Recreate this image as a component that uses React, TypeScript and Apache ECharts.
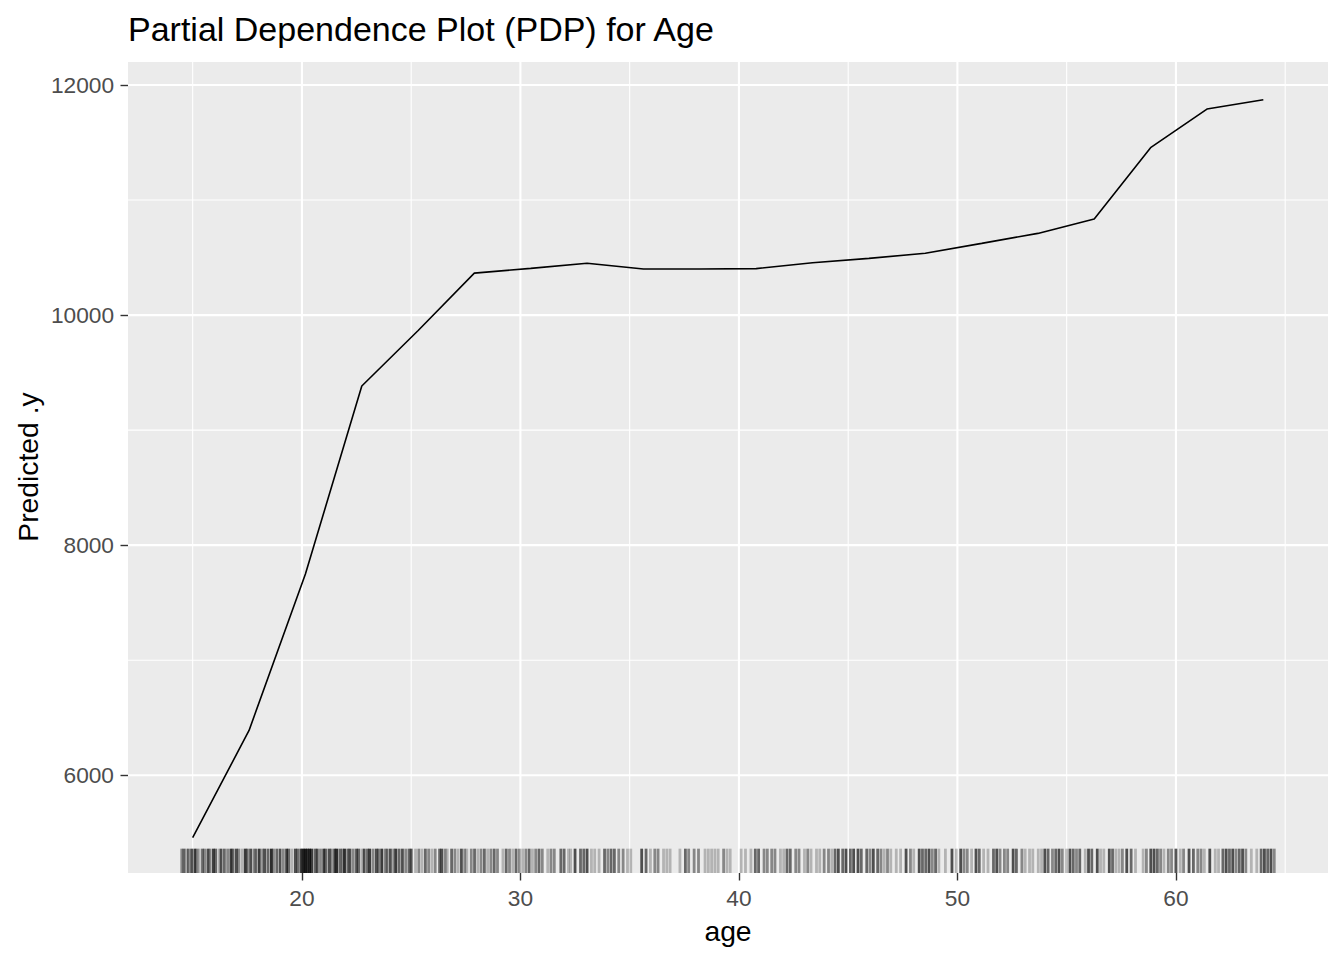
import { useEffect, useRef } from "react";
import * as echarts from "echarts";

const chartTitle = "Partial Dependence Plot (PDP) for Age";
const xTitle = "age";
const yTitle = "Predicted .y";

// PDP grid of ages and predicted values
const ageGrid = [15.0, 17.58, 20.16, 22.74, 25.32, 27.89, 30.47, 33.05, 35.63, 38.21, 40.79, 43.37, 45.95, 48.53, 51.11, 53.68, 56.26, 58.84, 61.42, 64.0];
const predicted = [5458, 6389, 7750, 9383, 9866, 10365, 10406, 10450, 10400, 10400, 10404, 10455, 10493, 10537, 10623, 10710, 10835, 11455, 11791, 11872];

// axis ticks & gridlines
const xTickValues = [20, 30, 40, 50, 60];
const xMinorValues = [15, 25, 35, 45, 55, 65];
const yTickValues = [6000, 8000, 10000, 12000];
const yMinorValues = [7000, 9000, 11000];
const xRange = [12.04, 66.96];
const yRange = [5150, 12200];

// rug: [age, number of overlapping observations]
const rugTicks: [number, number][] = [
  [14.5, 2], [14.6, 3], [14.7, 1], [14.8, 3], [14.95, 4], [15.1, 5], [15.2, 2], [15.3, 1], [15.45, 3], [15.55, 2], [15.7, 4], [15.8, 2], [15.95, 5], [16.05, 3], [16.2, 1], [16.3, 4], [16.45, 3], [16.6, 2], [16.75, 5], [16.85, 3], [17.0, 4], [17.1, 2], [17.25, 1], [17.4, 5], [17.5, 3], [17.65, 4], [17.8, 2], [17.9, 3], [18.05, 5], [18.2, 2], [18.3, 4], [18.45, 3], [18.6, 6], [18.7, 2], [18.85, 3], [19.0, 4], [19.15, 2], [19.3, 5], [19.4, 3], [19.55, 1], [19.7, 4], [19.8, 3], [19.95, 5],
  [20.05, 7], [20.15, 8], [20.25, 6], [20.35, 7], [20.45, 5],
  [20.6, 3], [20.7, 4], [20.85, 2], [21.0, 5], [21.1, 3], [21.25, 4], [21.35, 2], [21.5, 5], [21.6, 6], [21.75, 3], [21.85, 2], [21.95, 6], [22.1, 3], [22.2, 4], [22.35, 2], [22.5, 4], [22.6, 3], [22.75, 1], [22.85, 4], [23.0, 3], [23.1, 5], [23.25, 2], [23.4, 4], [23.5, 3], [23.65, 5], [23.8, 2], [23.9, 3], [24.05, 4], [24.2, 2], [24.3, 5], [24.45, 3], [24.6, 4], [24.75, 2], [24.9, 3], [25.0, 4],
  [25.2, 1], [25.35, 2], [25.5, 1], [25.65, 3], [25.8, 2], [25.95, 1], [26.1, 2], [26.3, 3], [26.4, 4], [26.55, 2], [26.65, 1], [26.85, 3], [27.0, 2], [27.15, 1], [27.3, 4], [27.45, 2], [27.55, 1], [27.75, 2], [27.9, 3], [28.05, 1], [28.2, 2], [28.35, 3], [28.5, 1], [28.65, 2], [28.8, 3], [28.95, 2], [29.2, 1], [29.35, 3], [29.5, 2], [29.65, 1], [29.8, 3], [29.95, 2], [30.1, 1], [30.25, 2], [30.4, 3], [30.55, 1], [30.7, 2], [30.85, 3],
  [31.0, 2], [31.25, 1], [31.4, 2], [31.55, 2], [31.85, 3], [32.0, 3], [32.2, 1], [32.3, 1], [32.5, 4], [32.75, 3], [32.9, 3], [33.05, 4], [33.25, 1], [33.4, 1], [33.6, 1], [33.85, 3], [34.0, 2], [34.15, 3], [34.3, 3], [34.5, 2], [34.7, 2], [34.9, 1], [35.05, 1], [35.55, 4], [35.75, 3], [35.95, 1], [36.15, 2], [36.3, 2], [36.55, 1], [36.7, 1], [36.85, 1], [37.3, 1], [37.55, 3], [37.7, 2], [37.95, 2], [38.15, 2], [38.45, 1], [38.6, 1], [38.75, 1], [38.9, 1], [39.05, 1], [39.3, 2], [39.45, 1], [39.6, 1], [40.1, 1], [40.3, 1], [40.55, 1], [40.75, 3], [40.9, 3], [41.15, 2], [41.3, 2], [41.5, 2], [41.65, 2], [41.9, 1], [42.05, 1], [42.2, 3], [42.35, 3], [42.6, 2], [42.75, 2], [43.0, 1], [43.15, 2], [43.3, 1], [43.55, 1], [43.7, 1], [43.9, 2], [44.1, 2], [44.25, 1], [44.4, 3], [44.55, 4], [44.75, 3], [44.9, 4], [45.1, 3], [45.25, 4], [45.45, 4], [45.6, 3], [45.85, 3], [46.0, 2], [46.15, 4], [46.35, 3], [46.5, 2], [46.65, 1], [46.8, 2], [46.95, 1], [47.2, 1], [47.4, 1], [47.65, 4], [47.85, 2],
  [48.0, 1], [48.25, 4], [48.4, 3], [48.55, 3], [48.7, 4], [48.85, 2], [49.0, 3], [49.15, 1], [49.45, 1], [49.75, 4], [49.95, 1], [50.15, 4], [50.3, 2], [50.45, 2], [50.65, 1], [50.85, 4], [51.0, 3], [51.2, 1], [51.4, 1], [51.65, 3], [51.8, 4], [51.95, 2], [52.15, 2], [52.3, 2], [52.55, 4], [52.7, 3], [52.95, 2], [53.1, 1], [53.3, 1], [53.45, 1], [53.7, 1], [53.85, 1], [54.0, 4], [54.15, 3], [54.35, 2], [54.5, 3], [54.65, 4], [54.8, 2], [55.0, 1], [55.15, 4], [55.3, 3], [55.45, 2], [55.6, 3], [55.85, 1], [56.0, 4], [56.15, 3], [56.4, 4], [56.55, 1], [56.7, 1], [56.95, 4], [57.1, 3], [57.25, 1], [57.4, 1], [57.55, 2], [57.75, 4], [57.95, 3], [58.15, 1], [58.5, 1], [58.65, 2], [58.85, 4], [59.0, 4], [59.15, 3], [59.3, 2], [59.45, 1], [59.65, 2], [59.8, 2], [60.0, 4], [60.2, 1], [60.35, 2], [60.6, 4], [60.8, 3], [61.0, 2], [61.15, 2], [61.3, 1], [61.55, 4], [61.8, 1], [61.95, 1], [62.15, 3], [62.3, 4], [62.45, 3], [62.6, 4], [62.75, 2], [62.9, 3], [63.05, 4], [63.2, 2], [63.45, 1], [63.7, 1], [63.9, 3], [64.05, 4], [64.2, 3], [64.35, 4], [64.5, 2],
];

const FONT = "'Liberation Sans', Arial, Helvetica, sans-serif";

function gridSeries(values: number[], dir: "x" | "y", width: number) {
  return {
    type: "custom",
    silent: true,
    z: 1,
    clip: false,
    data: values.map((v) => (dir === "x" ? [v, yRange[0]] : [xRange[0], v])),
    renderItem: (params: any, api: any) => {
      const cs = params.coordSys;
      if (dir === "x") {
        const x = api.coord([api.value(0), yRange[0]])[0];
        return {
          type: "line",
          shape: { x1: x, y1: cs.y, x2: x, y2: cs.y + cs.height },
          style: { stroke: "#FFFFFF", lineWidth: width },
        };
      }
      const y = api.coord([xRange[0], api.value(1)])[1];
      return {
        type: "line",
        shape: { x1: cs.x, y1: y, x2: cs.x + cs.width, y2: y },
        style: { stroke: "#FFFFFF", lineWidth: width },
      };
    },
  };
}

export default function App() {
  const ref = useRef<HTMLDivElement>(null);
  useEffect(() => {
    if (!ref.current) return;
    const chart = echarts.init(ref.current, null, { renderer: "svg" });
    const option: any = {
      animation: false,
      backgroundColor: "#FFFFFF",
      grid: {
        left: 128,
        right: 16,
        top: 62,
        bottom: 87,
        show: true,
        backgroundColor: "#EBEBEB",
        borderWidth: 0,
        containLabel: false,
      },
      xAxis: {
        type: "value",
        min: xRange[0],
        max: xRange[1],
        axisLine: { show: false },
        splitLine: { show: false },
        axisTick: {
          show: true,
          customValues: xTickValues,
          length: 7.5,
          lineStyle: { color: "#333333", width: 1.4 },
        },
        axisLabel: {
          customValues: xTickValues,
          formatter: (v: number) => String(v),
          color: "#4D4D4D",
          fontSize: 22.7,
          fontFamily: FONT,
          margin: 13,
        },
      },
      yAxis: {
        type: "value",
        min: yRange[0],
        max: yRange[1],
        axisLine: { show: false },
        splitLine: { show: false },
        axisTick: {
          show: true,
          customValues: yTickValues,
          length: 7.5,
          lineStyle: { color: "#333333", width: 1.4 },
        },
        axisLabel: {
          customValues: yTickValues,
          formatter: (v: number) => String(v),
          color: "#4D4D4D",
          fontSize: 22.7,
          fontFamily: FONT,
          margin: 14,
        },
      },
      graphic: [
        {
          type: "text",
          x: 128,
          y: 29,
          style: { text: chartTitle, font: `34px ${FONT}`, fill: "#000000", verticalAlign: "middle", align: "left" },
        },
        {
          type: "text",
          x: 728,
          y: 931,
          style: { text: xTitle, font: `28.3px ${FONT}`, fill: "#000000", verticalAlign: "middle", align: "center" },
        },
        {
          type: "text",
          x: 28,
          y: 467,
          rotation: Math.PI / 2,
          style: { text: yTitle, font: `28.3px ${FONT}`, fill: "#000000", verticalAlign: "middle", align: "center" },
        },
      ],
      series: [
        gridSeries(yMinorValues, "y", 1.1),
        gridSeries(xMinorValues, "x", 1.1),
        gridSeries(yTickValues, "y", 2.1),
        gridSeries(xTickValues, "x", 2.1),
        {
          type: "custom",
          silent: true,
          z: 2,
          data: rugTicks,
          renderItem: (params: any, api: any) => {
            const cs = params.coordSys;
            const x = api.coord([api.value(0), yRange[0]])[0];
            const bottom = cs.y + cs.height;
            const n = api.value(1);
            return {
              type: "line",
              shape: { x1: x, y1: bottom, x2: x, y2: bottom - cs.height * 0.03 },
              style: { stroke: "#000000", lineWidth: 2.8, opacity: 1 - Math.pow(0.76, n) },
            };
          },
        },
        {
          type: "line",
          z: 3,
          silent: true,
          showSymbol: false,
          data: ageGrid.map((a, i) => [a, predicted[i]]),
          lineStyle: { color: "#000000", width: 1.6 },
        },
      ],
    };
    chart.setOption(option);
    return () => chart.dispose();
  }, []);
  return (
    <div
      ref={ref}
      style={{ position: "fixed", left: 0, top: 0, width: 1344, height: 960, background: "#FFFFFF" }}
    />
  );
}
